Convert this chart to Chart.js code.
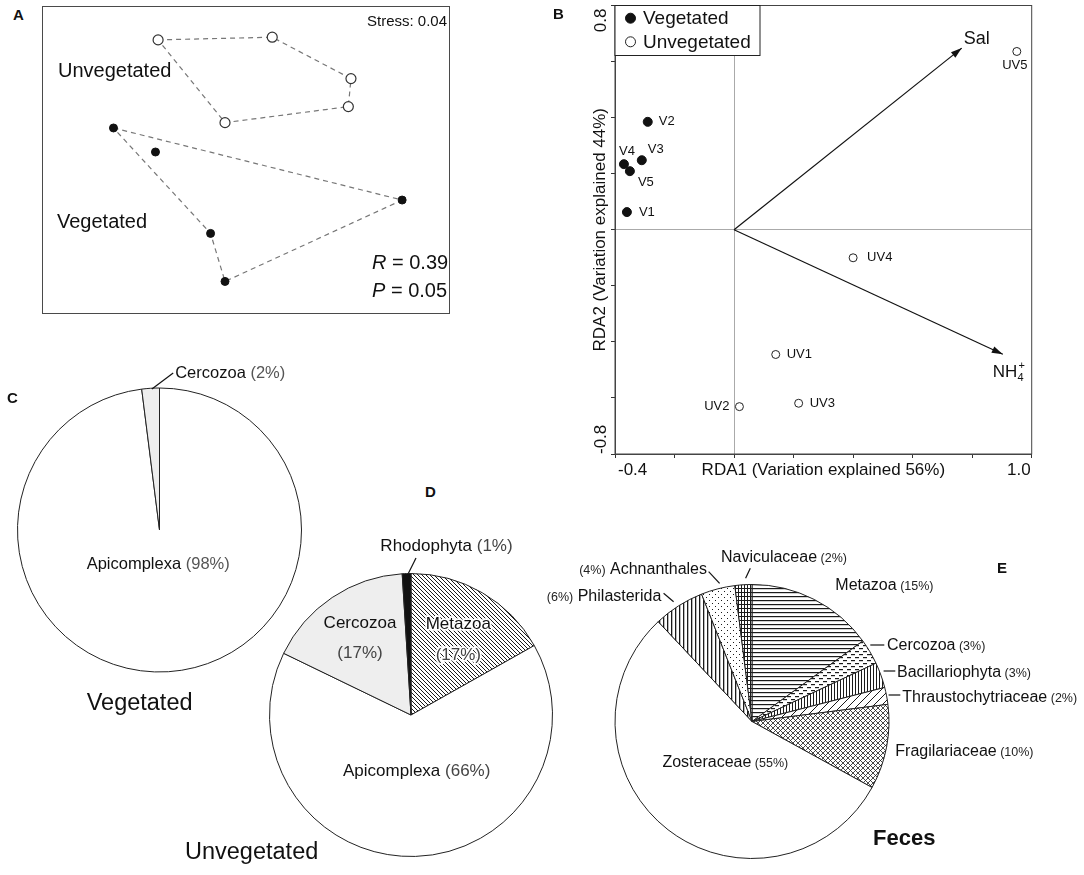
<!DOCTYPE html>
<html>
<head>
<meta charset="utf-8">
<script src="https://cdn.jsdelivr.net/npm/chart.js@4.4.0/dist/chart.umd.min.js"></script>
<style>
  html, body { margin:0; padding:0; background:#fff; overflow:hidden; }
  body { width:1084px; height:875px; position:relative; font-family:"Liberation Sans", Arial, sans-serif; color:#111; }
  canvas { position:absolute; }
  .t { position:absolute; white-space:nowrap; line-height:1; z-index:5; }
  .b { font-weight:bold; }
  #boxA { position:absolute; left:42px; top:6px; width:406px; height:306px; border:1.5px solid #4a4a4a; }
</style>
</head>
<body>
<div id="boxA"><canvas id="cA" width="406" height="306" style="left:0;top:0"></canvas></div>
<canvas id="cB" width="524" height="490" style="left:560px;top:0"></canvas>
<canvas id="cC" width="319" height="372" style="left:0;top:344px"></canvas>
<canvas id="cD" width="292" height="370" style="left:265px;top:530px"></canvas>
<canvas id="cE" width="658" height="347" style="left:423px;top:548px"></canvas>

<div class="t b" style="left:13px;top:6.5px;font-size:15px">A</div>
<div class="t" style="left:367px;top:12.5px;font-size:15px">Stress: 0.04</div>
<div class="t" style="left:58px;top:60px;font-size:20px">Unvegetated</div>
<div class="t" style="left:57px;top:210.5px;font-size:20px">Vegetated</div>
<div class="t" style="left:372px;top:251.5px;font-size:20px"><i>R</i> = 0.39</div>
<div class="t" style="left:372px;top:280px;font-size:20px"><i>P</i> = 0.05</div>
<div class="t b" style="left:553px;top:5.5px;font-size:15px">B</div>
<div class="t b" style="left:7px;top:390px;font-size:15px">C</div>
<div class="t" style="left:86.7px;top:691px;font-size:23.5px">Vegetated</div>
<div class="t b" style="left:425px;top:483.5px;font-size:15px">D</div>
<div class="t" style="left:185px;top:839.5px;font-size:23.5px">Unvegetated</div>
<div class="t b" style="left:997px;top:559.5px;font-size:15px">E</div>
<div class="t b" style="left:873px;top:826.5px;font-size:22px">Feces</div>

<script>
// ---- A: NMDS ordination (unitless axes) ----
const nmdsUnvegX = [-0.67, 0.20, 0.80, 0.78, -0.16];
const nmdsUnvegY = [0.90, 0.92, 0.61, 0.40, 0.28];
const nmdsVegX = [-1.01, -0.69, 1.19, -0.27, -0.16];
const nmdsVegY = [0.24, 0.06, -0.30, -0.55, -0.91];
const unvegHull = [0, 1, 2, 3, 4, 0];
const vegHull = [0, 2, 4, 3, 0];

// ---- B: RDA biplot ----
const rdaVegLabels = ['V1', 'V2', 'V3', 'V4', 'V5'];
const rdaVegX = [-0.36, -0.29, -0.31, -0.37, -0.35];
const rdaVegY = [0.063, 0.385, 0.248, 0.234, 0.209];
const rdaUnvegLabels = ['UV1', 'UV2', 'UV3', 'UV4', 'UV5'];
const rdaUnvegX = [0.14, 0.018, 0.217, 0.40, 0.95];
const rdaUnvegY = [-0.445, -0.631, -0.619, -0.10, 0.636];
const envLabels = ['Sal', 'NH4+'];
const envX = [0.765, 0.903];
const envY = [0.648, -0.444];
const rdaXTicks = [-0.4, 1.0];
const rdaYTicks = [0.8, -0.8];

// ---- C, D, E: taxa composition (%) ----
const vegTaxa = ['Apicomplexa', 'Cercozoa'];
const vegPct = [98, 2];
const unvegTaxa = ['Metazoa', 'Apicomplexa', 'Cercozoa', 'Rhodophyta'];
const unvegPct = [17, 66, 17, 1];
const fecesTaxa = ['Metazoa', 'Cercozoa', 'Bacillariophyta', 'Thraustochytriaceae', 'Fragilariaceae',
                   'Zosteraceae', 'Philasterida', 'Achnanthales', 'Naviculaceae'];
const fecesPct = [15, 3, 3, 2, 10, 55, 6, 4, 2];

const FONT = '"Liberation Sans", Arial, sans-serif';
Chart.defaults.font.family = FONT;
Chart.defaults.color = '#111';
Chart.defaults.animation = false;
Chart.defaults.plugins.legend.display = false;
Chart.defaults.plugins.tooltip.enabled = false;

const pts = (xs, ys) => xs.map((x, i) => ({ x, y: ys[i] }));
const hull = (xs, ys, order) => order.map(i => ({ x: xs[i], y: ys[i] }));

// ---------- A ----------
new Chart(document.getElementById('cA'), {
  type: 'scatter',
  data: { datasets: [
    { data: pts(nmdsUnvegX, nmdsUnvegY), pointRadius: 5, pointBackgroundColor: '#fff', pointBorderColor: '#333', pointBorderWidth: 1.2 },
    { data: pts(nmdsVegX, nmdsVegY), pointRadius: 4, pointBackgroundColor: '#111', pointBorderColor: '#111' },
    { data: hull(nmdsUnvegX, nmdsUnvegY, unvegHull), showLine: true, pointRadius: 0, borderColor: '#777', borderWidth: 1.2, borderDash: [5, 4] },
    { data: hull(nmdsVegX, nmdsVegY, vegHull), showLine: true, pointRadius: 0, borderColor: '#777', borderWidth: 1.2, borderDash: [5, 4] }
  ]},
  options: {
    responsive: false,
    layout: { padding: 0 },
    scales: {
      x: { type: 'linear', min: -1.5, max: 1.5, display: false },
      y: { type: 'linear', min: -1.1, max: 1.1, display: false }
    }
  }
});

// ---------- B ----------
const rdaLabelPos = {
  V1: [12, 0, 'left'], V2: [11, 0, 'left'], V3: [6, -11, 'left'], V4: [3, -13, 'center'], V5: [8, 11, 'left'],
  UV1: [11, 0, 'left'], UV2: [-10, 0, 'right'], UV3: [11, 0, 'left'], UV4: [14, 0, 'left'], UV5: [-2, 14, 'center']
};

const rdaDecor = {
  id: 'rdaDecor',
  afterDraw(chart) {
    const { ctx, chartArea: a, scales: { x, y } } = chart;
    ctx.save();
    ctx.strokeStyle = '#444'; ctx.lineWidth = 1;
    ctx.strokeRect(a.left, a.top, a.right - a.left, a.bottom - a.top);

    // tick labels (only the end values are printed)
    ctx.fillStyle = '#111'; ctx.font = '17px ' + FONT; ctx.textBaseline = 'middle';
    ctx.textAlign = 'left';
    ctx.fillText(rdaXTicks[0].toFixed(1), x.getPixelForValue(rdaXTicks[0]) + 3, a.bottom + 16);
    ctx.textAlign = 'right';
    ctx.fillText(rdaXTicks[1].toFixed(1), x.getPixelForValue(rdaXTicks[1]) - 1, a.bottom + 16);
    ctx.save(); ctx.translate(a.left - 13.3, y.getPixelForValue(rdaYTicks[0]) + 3); ctx.rotate(-Math.PI / 2);
    ctx.textAlign = 'right'; ctx.fillText(rdaYTicks[0].toFixed(1), 0, 0); ctx.restore();
    ctx.save(); ctx.translate(a.left - 13.3, y.getPixelForValue(rdaYTicks[1])); ctx.rotate(-Math.PI / 2);
    ctx.textAlign = 'left'; ctx.fillText(rdaYTicks[1].toFixed(1), 0, 0); ctx.restore();

    // sample labels
    ctx.font = '13px ' + FONT; ctx.textBaseline = 'middle';
    [0, 1].forEach(di => {
      const ds = chart.data.datasets[di];
      chart.getDatasetMeta(di).data.forEach((p, i) => {
        const name = ds.names[i];
        const [dx, dy, al] = rdaLabelPos[name];
        ctx.textAlign = al;
        ctx.fillText(name, p.x + dx, p.y + dy);
      });
    });

    // arrowheads + env labels
    chart.data.datasets.forEach((ds, di) => {
      if (!ds.arrow) return;
      const [p0, p1] = chart.getDatasetMeta(di).data;
      const ang = Math.atan2(p1.y - p0.y, p1.x - p0.x);
      ctx.fillStyle = '#111';
      ctx.beginPath();
      ctx.moveTo(p1.x, p1.y);
      ctx.lineTo(p1.x - 11 * Math.cos(ang) + 3.5 * Math.sin(ang), p1.y - 11 * Math.sin(ang) - 3.5 * Math.cos(ang));
      ctx.lineTo(p1.x - 11 * Math.cos(ang) - 3.5 * Math.sin(ang), p1.y - 11 * Math.sin(ang) + 3.5 * Math.cos(ang));
      ctx.closePath(); ctx.fill();
      ctx.textAlign = 'left'; ctx.textBaseline = 'alphabetic';
      if (ds.label === 'Sal') {
        ctx.font = '18px ' + FONT;
        const w = ctx.measureText('Sal').width;
        ctx.fillText('Sal', p1.x + 15 - w / 2, p1.y - 11 + 6.5);
      } else {
        ctx.font = '17px ' + FONT;
        const wN = ctx.measureText('NH').width;
        const sx = p1.x - 10, by = p1.y + 17 + 6;
        ctx.fillText('NH', sx, by);
        ctx.font = '11px ' + FONT;
        ctx.fillText('4', sx + wN, by + 4);
        ctx.fillText('+', sx + wN + 1, by - 8);
      }
    });

    // legend box in the top-left corner
    const lx = a.left, ly = a.top;
    ctx.fillStyle = '#fff'; ctx.fillRect(lx, ly, 145, 50);
    ctx.strokeStyle = '#222'; ctx.lineWidth = 1; ctx.strokeRect(lx, ly, 145, 50);
    ctx.font = '19px ' + FONT; ctx.textAlign = 'left'; ctx.textBaseline = 'middle';
    [0, 1].forEach(di => {
      const ds = chart.data.datasets[di];
      const cy = ly + 12.7 + di * 23.6;
      ctx.beginPath(); ctx.arc(lx + 15.5, cy, 5, 0, Math.PI * 2);
      ctx.fillStyle = ds.pointBackgroundColor; ctx.fill();
      ctx.strokeStyle = ds.pointBorderColor; ctx.lineWidth = 1; ctx.stroke();
      ctx.fillStyle = '#111';
      ctx.fillText(ds.label, lx + 28, cy + 1);
    });
    ctx.restore();
  }
};

const zeroLine = c => (Math.abs(c.tick.value) < 1e-6 ? '#aaa' : 'rgba(0,0,0,0)');
new Chart(document.getElementById('cB'), {
  type: 'scatter',
  data: { datasets: [
    { label: 'Vegetated', names: rdaVegLabels, data: pts(rdaVegX, rdaVegY), pointRadius: 4.5, pointBackgroundColor: '#111', pointBorderColor: '#111' },
    { label: 'Unvegetated', names: rdaUnvegLabels, data: pts(rdaUnvegX, rdaUnvegY), pointRadius: 4, pointBackgroundColor: '#fff', pointBorderColor: '#222', pointBorderWidth: 1 },
    ...envLabels.map((l, i) => ({ label: l, arrow: true, data: [{ x: 0, y: 0 }, { x: envX[i], y: envY[i] }],
      showLine: true, pointRadius: 0, borderColor: '#111', borderWidth: 1.2 }))
  ]},
  options: {
    responsive: false,
    layout: { padding: { left: 30.6, top: 4, right: 52.3, bottom: 7.6 } },
    scales: {
      x: { type: 'linear', min: -0.4, max: 1.0,
           ticks: { display: false, stepSize: 0.2 },
           grid: { color: zeroLine, tickColor: '#333', tickLength: 4, drawTicks: true },
           border: { color: '#444', width: 1 },
           title: { display: true, text: 'RDA1 (Variation explained 56%)', font: { size: 17 }, color: '#111', padding: { top: 2, bottom: 2 } } },
      y: { type: 'linear', min: -0.8, max: 0.8,
           ticks: { display: false, stepSize: 0.2 },
           grid: { color: zeroLine, tickColor: '#333', tickLength: 4, drawTicks: true },
           border: { color: '#444', width: 1 },
           title: { display: true, text: 'RDA2 (Variation explained 44%)', font: { size: 17 }, color: '#111', padding: { top: 0, bottom: 0 } } }
    }
  },
  plugins: [rdaDecor]
});

// ---------- fill patterns for pies ----------
function pat(w, h, draw) {
  const c = document.createElement('canvas'); c.width = w; c.height = h;
  const g = c.getContext('2d');
  g.fillStyle = '#fff'; g.fillRect(0, 0, w, h);
  g.strokeStyle = '#1a1a1a'; g.fillStyle = '#1a1a1a'; g.lineWidth = 1;
  draw(g, w, h);
  return g.createPattern(c, 'repeat');
}
const diag = (g, s, dir) => {
  g.beginPath();
  for (const k of [-s, 0, s]) {
    if (dir > 0) { g.moveTo(k + s, 0); g.lineTo(k, s); } else { g.moveTo(k, 0); g.lineTo(k + s, s); }
  }
  g.stroke();
};
const P = {
  back: pat(4, 4, g => { g.lineWidth = 1; diag(g, 4, -1); }),
  hlines: pat(4, 4, g => { g.fillRect(0, 0, 4, 1.2); }),
  dashes: pat(8, 6, g => { g.fillRect(0, 1, 4, 1.2); g.fillRect(4, 4, 4, 1.2); }),
  vlines: pat(3, 3, g => { g.fillRect(0, 0, 1, 3); }),
  vwide: pat(4, 4, g => { g.fillRect(0, 0, 1.3, 4); }),
  slash: pat(8, 8, g => { diag(g, 8, 1); }),
  cross: pat(5, 5, g => { g.lineWidth = 0.8; diag(g, 5, 1); diag(g, 5, -1); }),
  dots: pat(6, 6, g => { g.fillRect(1, 1, 1, 1); g.fillRect(4, 4, 1, 1); }),
  grid: pat(3, 4, g => { g.fillRect(0, 0, 1, 4); g.fillRect(0, 0, 3, 1); })
};

// ---------- pie labels ----------
const pieText = {
  id: 'pieText',
  afterDraw(chart, args, o) {
    const arc = chart.getDatasetMeta(0).data[0];
    const cx = arc.x, cy = arc.y, ctx = chart.ctx;
    const labels = chart.data.labels, vals = chart.data.datasets[0].data;
    ctx.save();
    ctx.textAlign = 'left'; ctx.textBaseline = 'alphabetic';
    o.items.forEach(it => {
      if (it.lead) {
        ctx.strokeStyle = '#111'; ctx.lineWidth = 1.2;
        ctx.beginPath(); ctx.moveTo(cx + it.lead[0], cy + it.lead[1]); ctx.lineTo(cx + it.lead[2], cy + it.lead[3]); ctx.stroke();
      }
      const name = { t: labels[it.i], size: o.nameSize, color: '#111' };
      const pct = { t: '(' + vals[it.i] + '%)', size: o.pctSize, color: o.pctColor };
      const lines = it.stack ? [[name], [pct]]
        : it.pre ? [[pct, { t: ' ' + name.t, size: name.size, color: name.color }]]
        : [[name, { t: ' ' + pct.t, size: pct.size, color: pct.color }]];
      lines.forEach((parts, li) => {
        let w = 0;
        parts.forEach(p => { ctx.font = p.size + 'px ' + FONT; p.w = ctx.measureText(p.t).width; w += p.w; });
        let sx = it.align === 'left' ? cx + it.x : it.align === 'right' ? cx + it.x - w : cx + it.x - w / 2;
        const base = cy + it.y + li * (it.gap || 0) + o.nameSize * 0.36;
        parts.forEach(p => {
          ctx.font = p.size + 'px ' + FONT;
          if (it.halo) { ctx.lineWidth = 3.5; ctx.strokeStyle = '#fff'; ctx.lineJoin = 'round'; ctx.strokeText(p.t, sx, base); }
          ctx.fillStyle = p.color; ctx.fillText(p.t, sx, base);
          sx += p.w;
        });
      });
    });
    ctx.restore();
  }
};

function pie(id, labels, values, colors, R, textOpts) {
  return new Chart(document.getElementById(id), {
    type: 'pie',
    data: { labels, datasets: [{ data: values, backgroundColor: colors, borderColor: '#222', borderWidth: 1, radius: R }] },
    options: { responsive: false, layout: { padding: 0 }, plugins: { pieText: textOpts } },
    plugins: [pieText]
  });
}

pie('cC', vegTaxa, vegPct, ['#fff', '#eeeeee'], 142, {
  nameSize: 16.5, pctSize: 16.5, pctColor: '#555',
  items: [
    { i: 1, x: 15.7, y: -158.3, align: 'left', lead: [-7.6, -141, 13.7, -157] },
    { i: 0, x: -1.3, y: 32.7, align: 'center' }
  ]
});

pie('cD', unvegTaxa, unvegPct, [P.back, '#fff', '#eeeeee', '#111'], 141.5, {
  nameSize: 17, pctSize: 17, pctColor: '#444',
  items: [
    { i: 3, x: 35.5, y: -170, align: 'center', lead: [-2.7, -141.5, 5, -157] },
    { i: 2, x: -51, y: -93.3, align: 'center', stack: true, gap: 30.3 },
    { i: 0, x: 47.3, y: -91.7, align: 'center', stack: true, gap: 30.3, halo: true },
    { i: 1, x: 5.7, y: 55, align: 'center' }
  ]
});

pie('cE', fecesTaxa, fecesPct,
  [P.hlines, P.dashes, P.vlines, P.slash, P.cross, '#fff', P.vwide, P.dots, P.grid], 137, {
  nameSize: 16, pctSize: 12.5, pctColor: '#222',
  items: [
    { i: 0, x: 83.3, y: -137.5, align: 'left' },
    { i: 1, x: 135, y: -77.5, align: 'left', lead: [118.3, -76.5, 132.3, -76.5] },
    { i: 2, x: 145, y: -50.5, align: 'left', lead: [131.6, -50.5, 143.3, -50.5] },
    { i: 3, x: 150.3, y: -25.5, align: 'left', lead: [136.6, -26.5, 148.3, -26.5] },
    { i: 4, x: 143.3, y: 29.2, align: 'left' },
    { i: 5, x: -26.7, y: 40.2, align: 'center' },
    { i: 6, x: -90.7, y: -126.5, align: 'right', pre: true, lead: [-88.4, -128.2, -78.4, -119.8] },
    { i: 7, x: -45, y: -153.2, align: 'right', pre: true, lead: [-43.4, -149.8, -32.4, -138.2] },
    { i: 8, x: -31, y: -164.8, align: 'left', lead: [-1.7, -153.2, -6.4, -143.2] }
  ]
});
</script>
</body>
</html>
